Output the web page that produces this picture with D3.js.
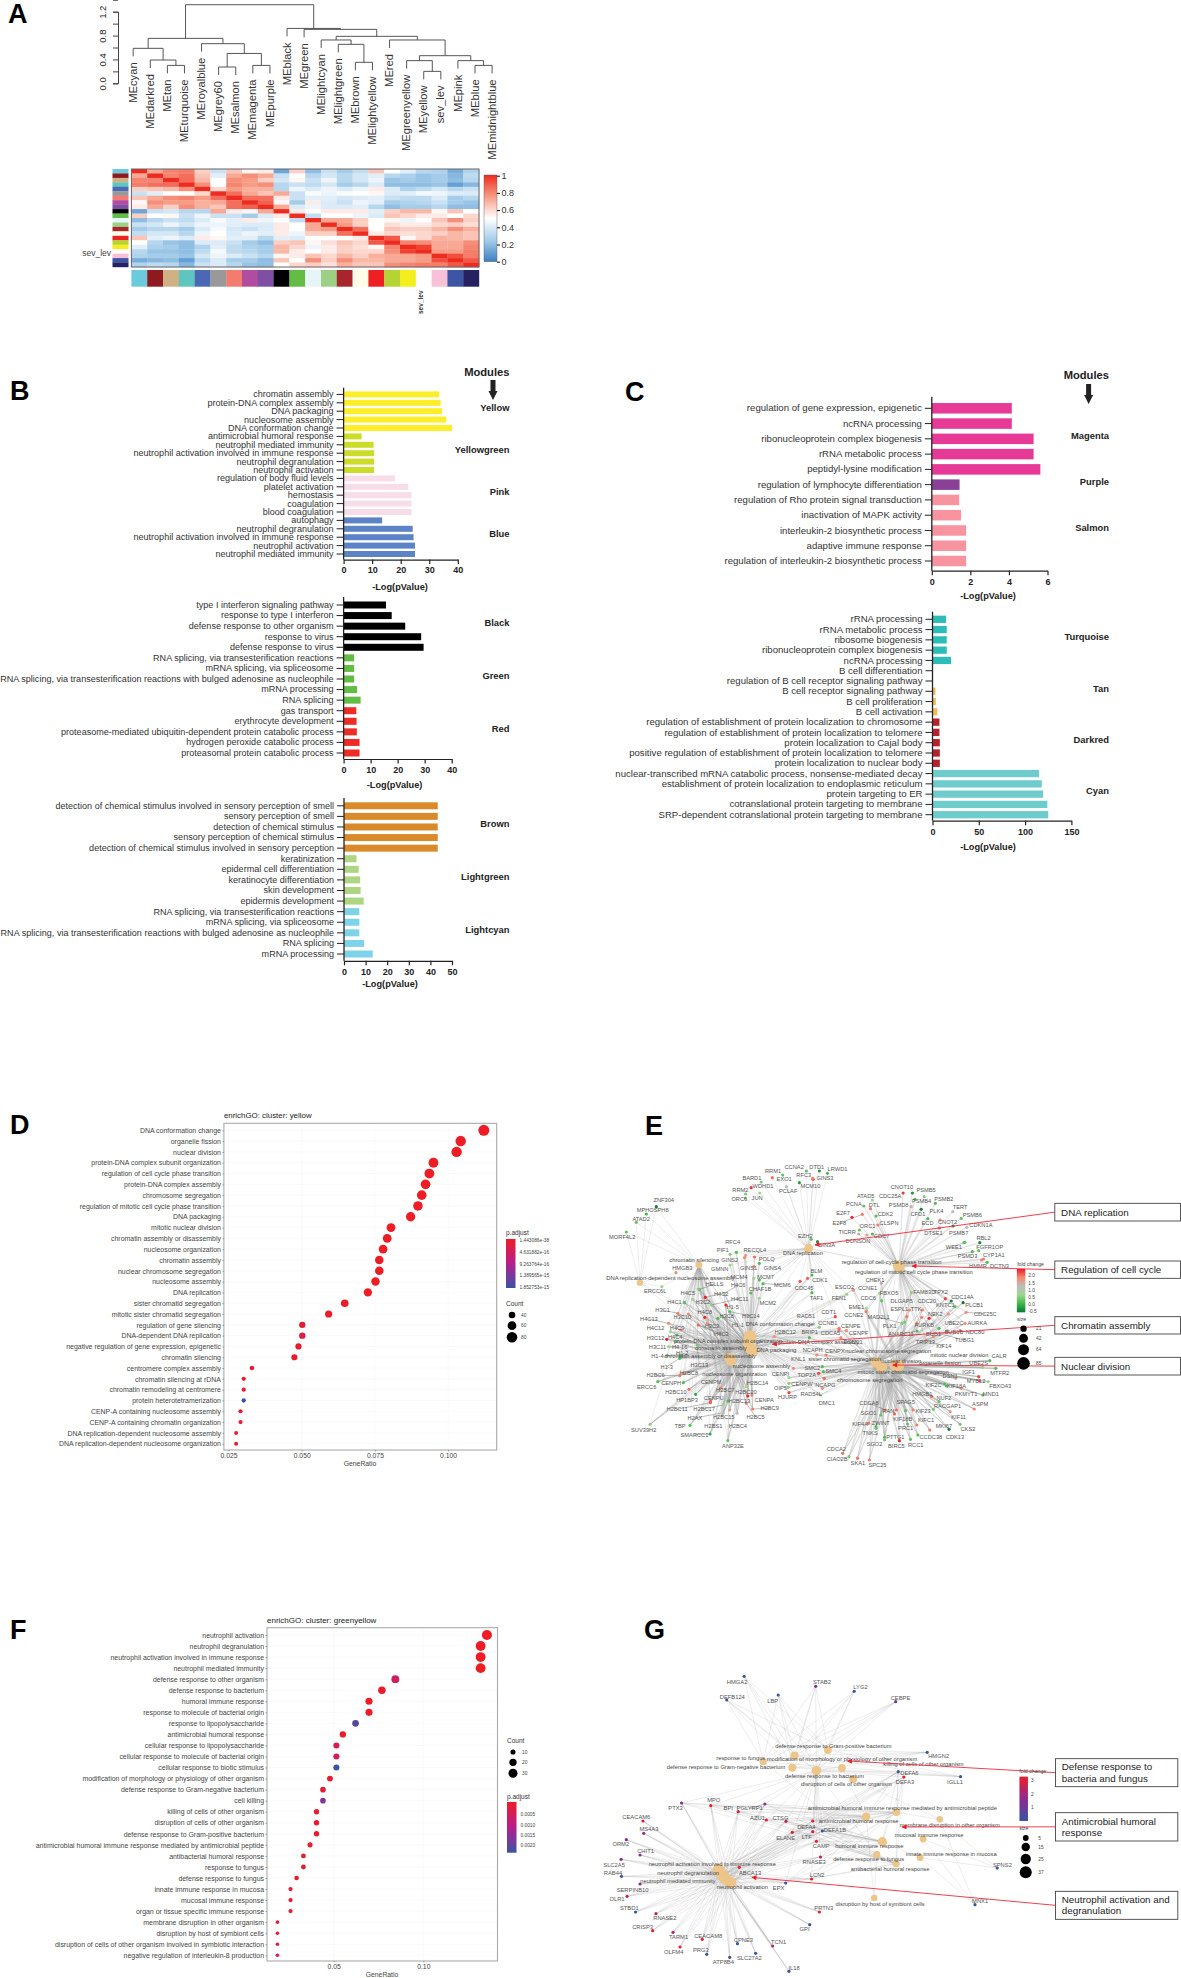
<!DOCTYPE html>
<html>
<head>
<meta charset="utf-8">
<script src="https://cdn.jsdelivr.net/npm/d3@7"></script>
<style>
  body { margin: 0; background: #fff; }
  svg { display: block; font-family: "Liberation Sans", Arial, sans-serif; }
</style>
</head>
<body>
<div id="chart"></div>
<script>
// ---------- panel A data ----------
const meLabels = ["MEcyan","MEdarkred","MEtan","MEturquoise","MEroyalblue","MEgrey60","MEsalmon","MEmagenta","MEpurple","MEblack","MEgreen","MElightcyan","MElightgreen","MEbrown","MElightyellow","MEred","MEgreenyellow","MEyellow","sev_lev","MEpink","MEblue","MEmidnightblue"];
const meColors = ["#6bcbdc","#8e1a1f","#cfb184","#5fc5bf","#4a68b3","#999999","#f37b70","#b14da0","#7f4fa3","#000000","#63bd45","#e5f5f9","#9dd085","#a8262b","#fffde8","#ee2024","#b5d334","#f4ee1d","#ffffff","#f8c1d8","#3c55a5","#262262"];
// merge heights, leaves are indexes into meLabels
const dendroTree = { h: 1.317, c: [
  { h: .753, c: [
    { h: .586, c: [0, { h: .39, c: [1, { h: .30, c: [2, 3] }] }] },
    { h: .664, c: [4, { h: .50, c: [{ h: .273, c: [5, 6] }, { h: .30, c: [7, 8] }] }] }
  ] },
  { h: .92, c: [9, { h: .904, c: [10, { h: .787, c: [
    { h: .726, c: [11, { h: .653, c: [12, { h: .352, c: [13, 14] }] }] },
    { h: .726, c: [15, { h: .463, c: [
      { h: .38, c: [16, { h: .20, c: [17, 18] }] },
      { h: .38, c: [19, { h: .30, c: [20, 21] }] }
    ] }] }
  ] }] }] }
] };
// upper triangle of the module correlation heatmap
const hmUpper = [
  [1,.72,.8,.82,.62,.35,.65,.52,.55,.12,.62,.2,.35,.25,.33,.65,.5,.42,.3,.28,.15,.28],
  [1,.8,.85,.65,.42,.72,.78,.72,.35,.5,.3,.38,.3,.38,.42,.3,.27,.22,.25,.18,.32],
  [1,.86,.68,.5,.78,.75,.62,.38,.52,.35,.45,.3,.38,.45,.22,.25,.22,.25,.2,.3],
  [1,.78,.5,.8,.75,.78,.3,.35,.32,.38,.25,.3,.4,.2,.2,.2,.22,.1,.18],
  [1,.6,.75,.7,.7,.3,.45,.4,.45,.4,.45,.55,.4,.28,.32,.38,.3,.35],
  [1,.85,.72,.65,.72,.35,.48,.45,.48,.5,.52,.4,.42,.47,.45,.4,.4],
  [1,.85,.85,.55,.35,.42,.42,.38,.4,.42,.35,.32,.32,.4,.25,.3],
  [1,.88,.52,.25,.55,.4,.35,.45,.42,.25,.28,.3,.35,.25,.22],
  [1,.72,.4,.45,.4,.4,.42,.3,.2,.25,.25,.3,.2,.2],
  [1,.55,.5,.55,.55,.55,.42,.62,.68,.68,.52,.65,.5],
  [1,.33,.5,.5,.45,.4,.65,.6,.55,.55,.5,.6],
  [1,.72,.72,.62,.5,.52,.45,.5,.65,.78,.62],
  [1,.75,.62,.5,.58,.55,.55,.6,.62,.58],
  [1,.85,.5,.65,.62,.62,.68,.78,.7],
  [1,.55,.6,.58,.6,.62,.68,.65],
  [1,.9,.52,.6,.7,.68,.65],
  [1,.8,.78,.72,.72,.78],
  [1,.95,.72,.72,.8],
  [1,.75,.75,.82],
  [1,.92,.82],
  [1,.9],
  [1]
];

// ---------- panel B / C data ----------
const b1Terms = ["chromatin assembly","protein-DNA complex assembly","DNA packaging","nucleosome assembly","DNA conformation change","antimicrobial humoral response","neutrophil mediated immunity","neutrophil activation involved in immune response","neutrophil degranulation","neutrophil activation","regulation of body fluid levels","platelet activation","hemostasis","coagulation","blood coagulation","autophagy","neutrophil degranulation","neutrophil activation involved in immune response","neutrophil activation","neutrophil mediated immunity"];
const b1Values = [33.5,34,34.5,36,38,6.3,10.5,10.7,10.7,10.7,18,22.7,23.8,23.8,23.8,13.5,24.2,24.5,25,25];
const b1Modules = ["Yellow","Yellowgreen","Pink","Blue"];
const b1Sizes = [5,5,5,5];
const b1Colors = ["#fdee2a","#cddc29","#f7dde9","#5b83c6"];

const b2Terms = ["type I interferon signaling pathway","response to type I interferon","defense response to other organism","response to virus","defense response to virus","RNA splicing, via transesterification reactions","mRNA splicing, via spliceosome","RNA splicing, via transesterification reactions with bulged adenosine as nucleophile","mRNA processing","RNA splicing","gas transport","erythrocyte development","proteasome-mediated ubiquitin-dependent protein catabolic process","hydrogen peroxide catabolic process","proteasomal protein catabolic process"];
const b2Values = [15.7,17.8,22.8,28.7,29.6,3.9,3.9,3.9,5,6.3,4.7,4.8,4.9,5.9,5.9];
const b2Modules = ["Black","Green","Red"];
const b2Sizes = [5,5,5];
const b2Colors = ["#000000","#63bd45","#ee2b24"];

const b3Terms = ["detection of chemical stimulus involved in sensory perception of smell","sensory perception of smell","detection of chemical stimulus","sensory perception of chemical stimulus","detection of chemical stimulus involved in sensory perception","keratinization","epidermal cell differentiation","keratinocyte differentiation","skin development","epidermis development","RNA splicing, via transesterification reactions","mRNA splicing, via spliceosome","RNA splicing, via transesterification reactions with bulged adenosine as nucleophile","RNA splicing","mRNA processing"];
const b3Values = [43.4,43.4,43.4,43.4,43.4,5.8,6.8,7.5,7.7,9.1,7.1,7.1,7.1,9.3,13.3];
const b3Modules = ["Brown","Lightgreen","Lightcyan"];
const b3Sizes = [5,5,5];
const b3Colors = ["#d98a2b","#aed581","#7fd3e8"];

const c1Terms = ["regulation of gene expression, epigenetic","ncRNA processing","ribonucleoprotein complex biogenesis","rRNA metabolic process","peptidyl-lysine modification","regulation of lymphocyte differentiation","regulation of Rho protein signal transduction","inactivation of MAPK activity","interleukin-2 biosynthetic process","adaptive immune response","regulation of interleukin-2 biosynthetic process"];
const c1Values = [4.15,4.15,5.28,5.28,5.63,1.44,1.42,1.52,1.78,1.78,1.78];
const c1Modules = ["Magenta","Purple","Salmon"];
const c1Sizes = [5,1,5];
const c1Colors = ["#e63a96","#8a4097","#f8949f"];

const c2Terms = ["rRNA processing","rRNA metabolic process","ribosome biogenesis","ribonucleoprotein complex biogenesis","ncRNA processing","B cell differentiation","regulation of B cell receptor signaling pathway","B cell receptor signaling pathway","B cell proliferation","B cell activation","regulation of establishment of protein localization to chromosome","regulation of establishment of protein localization to telomere","protein localization to Cajal body","positive regulation of establishment of protein localization to telomere","protein localization to nuclear body","nuclear-transcribed mRNA catabolic process, nonsense-mediated decay","establishment of protein localization to endoplasmic reticulum","protein targeting to ER","cotranslational protein targeting to membrane","SRP-dependent cotranslational protein targeting to membrane"];
const c2Values = [14.7,15.4,15.4,15.4,20,.5,.5,3.2,3.6,5.2,7.5,7.5,7.9,7.9,7.9,115,118,119.5,124,125];
const c2Modules = ["Turquoise","Tan","Darkred","Cyan"];
const c2Sizes = [5,5,5,5];
const c2Colors = ["#2dbdb6","#f5b95c","#b8202e","#6fcccd"];

// ---------- panel D / F data ----------
const dTerms = ["DNA conformation change","organelle fission","nuclear division","protein-DNA complex subunit organization","regulation of cell cycle phase transition","protein-DNA complex assembly","chromosome segregation","regulation of mitotic cell cycle phase transition","DNA packaging","mitotic nuclear division","chromatin assembly or disassembly","nucleosome organization","chromatin assembly","nuclear chromosome segregation","nucleosome assembly","DNA replication","sister chromatid segregation","mitotic sister chromatid segregation","regulation of gene silencing","DNA-dependent DNA replication","negative regulation of gene expression, epigenetic","chromatin silencing","centromere complex assembly","chromatin silencing at rDNA","chromatin remodeling at centromere","protein heterotetramerization","CENP-A containing nucleosome assembly","CENP-A containing chromatin organization","DNA replication-dependent nucleosome assembly","DNA replication-dependent nucleosome organization"];
const dRatio = [.1122,.1043,.1029,.095,.0936,.0923,.091,.0897,.0872,.0805,.0792,.0778,.0765,.0765,.0752,.0726,.0647,.0592,.0502,.0502,.0489,.0475,.033,.0302,.0302,.0302,.0291,.0291,.0276,.0276];
const dCount = [85,79,78,72,71,70,69,68,66,61,60,59,58,58,57,55,49,45,38,38,37,36,25,23,23,23,22,22,21,21];
const dAdjust = [0,0,0,0,0,0,0,0,0,0,0,0,0,0,0,0,0,0,.06,.14,.04,.04,.03,.03,.03,1,.03,.03,.02,.02];

const fTerms = ["neutrophil activation","neutrophil degranulation","neutrophil activation involved in immune response","neutrophil mediated immunity","defense response to other organism","defense response to bacterium","humoral immune response","response to molecule of bacterial origin","response to lipopolysaccharide","antimicrobial humoral response","cellular response to lipopolysaccharide","cellular response to molecule of bacterial origin","cellular response to biotic stimulus","modification of morphology or physiology of other organism","defense response to Gram-negative bacterium","cell killing","killing of cells of other organism","disruption of cells of other organism","defense response to Gram-positive bacterium","antimicrobial humoral immune response mediated by antimicrobial peptide","antibacterial humoral response","response to fungus","defense response to fungus","innate immune response in mucosa","mucosal immune response","organ or tissue specific immune response","membrane disruption in other organism","disruption by host of symbiont cells","disruption of cells of other organism involved in symbiotic interaction","negative regulation of interleukin-8 production"];
const fRatio = [.1355,.132,.132,.132,.0844,.0769,.0697,.0697,.0622,.0551,.0515,.0515,.0515,.0479,.044,.044,.0404,.0404,.0404,.0368,.0331,.0331,.0293,.0259,.0259,.0259,.0186,.0186,.0186,.0186];
const fCount = [37,36,36,36,23,21,19,19,17,15,14,14,14,13,12,12,11,11,11,10,9,9,8,7,7,7,5,5,5,5];
const fAdjust = [0,0,0,0,.28,.02,.02,.03,.88,.03,.2,.22,1,.04,.06,.72,.04,.04,.04,.03,.05,.05,.04,.08,.08,.08,.1,.08,.15,.22];

// ---------- panel E data: hubs and genes in the layout space of the network ----------
// hub rows: label, x, y, size, label x, label y
const eHubs = [
  ["DNA replication",563,415,42,548,430],
  ["chromatin silencing",267,465,25,254,450],
  ["DNA replication-dependent nucleosome assembly",108,518,21,190,504],
  ["regulation of cell-cycle phase transition",806,468,70,787,457],
  ["regulation of mitotic cell cycle phase transition",808,472,60,847,485],
  ["DNA conformation change",405,680,85,485,643],
  ["protein-DNA complex subunit organization",400,700,72,345,692],
  ["protein-DNA complex assembly",412,722,70,590,697],
  ["DNA packaging",408,718,66,476,721],
  ["chromatin assembly",403,712,58,326,714],
  ["chromatin assembly or disassembly",350,745,60,297,738],
  ["nucleosome assembly",352,748,57,436,767],
  ["nucleosome organization",354,752,59,363,792],
  ["nuclear chromosome segregation",745,757,58,778,724],
  ["sister chromatid segregation",742,757,49,660,748],
  ["nuclear division",800,767,78,813,753],
  ["mitotic nuclear division",795,765,61,970,735],
  ["organelle fission",805,767,79,918,760],
  ["mitotic sister chromatid segregation",760,770,45,818,785],
  ["chromosome segregation",760,772,69,728,809]
];
// gene rows: name, x, y, label x, label y, fold change
const eSilencingGenes = [
  ["ZNF304",152,290,172,271,-.5],["MPHOSPH8",125,312,142,300,0],["ATAD2",98,337,111,326,.2],["MORF4L2",71,366,60,381,.2],
  ["HMGB3",205,488,222,475,1.4],["ERCC6L",167,530,149,544,.5]
];
const eReplicationTop = [
  ["CCNA2",557,183,524,170,.2],["DTD1",592,183,585,170,-.2],["LRWD1",614,190,641,178,.1],["RFC3",575,208,550,195,2],
  ["GINS3",574,205,607,204,1.6],["RRM1",493,195,467,184,.2],["EXO1",465,203,497,208,1.7],["BARD1",435,216,410,203,.3],
  ["MCM10",538,218,568,229,-.2],["WDHD1",408,233,440,229,2.1],["PCLAF",503,230,508,243,1],["RRM2",393,252,379,240,.3],
  ["ORC6",392,264,376,266,.4],["JUN",431,249,424,264,.5],["EZH2",570,388,554,377,.2],["SIN3A",587,395,612,405,-.3]
];
const eReplicationMid = [
  ["RFC4",368,427,358,396,.1],["PIF1",351,433,331,421,.4],["RECQL4",393,436,418,421,1.3],["GINS2",390,443,350,449,1.5],
  ["POLQ",417,441,450,446,1.7],["GMNN",351,465,323,476,.5],["GINS1",415,470,401,473,1.4],["GINS4",430,460,465,475,.1],
  ["MCM4",415,505,375,501,.6],["MCM7",430,510,447,502,.1],["MCM6",440,521,492,524,.1],["CHAF1B",407,549,432,538,.1],
  ["MCM2",430,565,453,578,.6],["BLM",572,495,584,482,.1],["CDK1",560,505,593,510,1.8],["CDC45",540,514,551,535,1.9],
  ["TAF1",572,548,584,563,.1],["ESCO2",683,540,660,530,1.6],["FEN1",666,553,645,563,.5],["RAD51",577,642,556,618,1],
  ["CDT1",635,620,617,607,2],["CCNB1",592,652,615,640,.4]
];
const eCycleTop = [
  ["CNOT10",843,249,815,232,-.3],["CDC25A",818,249,783,258,2.1],["PSMB5",875,260,880,241,.4],["ATAD5",735,270,717,258,.5],
  ["PSMB4",850,268,868,272,.1],["PSMB2",905,280,928,266,.1],["PCNA",712,288,685,283,.2],["DTL",730,296,740,286,1.6],
  ["PSMD8",840,290,806,285,1.2],["TERT",952,305,972,291,1],["PLK4",867,298,908,302,-.4],["E2F7",680,322,656,310,2.2],
  ["CDK2",745,318,770,313,.1],["CFD1",885,326,858,311,.1],["PSMB6",975,325,1005,316,.2],["E2F8",708,313,646,340,1.6],
  ["ORC1",700,360,722,349,.2],["CLSPN",750,345,780,340,1.6],["ECD",918,330,884,340,1.5],["CNOT2",953,348,938,335,-.3],
  ["CDKN1A",990,352,1028,345,1],["TICRR",698,372,667,366,1.2],["CDC7",735,372,760,377,.1],["DTSE1",916,354,900,369,1.8],
  ["PSMB7",985,397,968,370,.2],["DONSON",720,375,696,392,1.2],["RBL2",1025,398,1035,385,-.4],["WEE1",982,398,955,412,.2],
  ["FGFR1OP",1022,422,1052,410,.2],["PSMD3",1005,425,992,438,.1],["CYP1A1",1035,447,1063,436,1.6],["HMMR",1030,450,1020,469,1.6],
  ["DCTN3",1045,457,1078,468,.1]
];
const eCycleMid = [
  ["CHEK1",759,520,742,510,1.2],["CCNE1",684,540,722,534,1.4],["FBXO5",755,550,780,548,.5],["CDC6",760,572,724,564,.2],
  ["EME1",719,595,692,590,.5],["CCNE2",718,605,685,615,1.6],["FAM83D",840,548,875,546,.4],["TPX2",932,566,920,545,2],
  ["CDC14A",948,573,978,562,-.4],["PLCB1",980,578,1010,586,-.5],["KNTC1",958,590,932,586,.2],["DLGAP5",835,600,814,573,1.5],
  ["CDC20",870,600,882,573,1.6],["ESPL1",828,620,808,597,1.6],["TTK",868,622,853,598,1.6],["CDC25C",988,607,1040,612,1.5],
  ["NEK2",888,625,905,612,2.2],["MAD2L1",815,640,752,622,.4],["UBE2C",940,612,955,638,1.5],["AURKA",985,640,1018,638,1.5],
  ["PLK1",822,636,782,647,.3],["AURKB",855,640,875,645,1.6],["ANAPC11",856,663,812,672,.1],["BUB1",915,655,900,672,.1],
  ["BUB1B",938,662,955,665,1.2],["NDC80",972,662,1012,665,1.6],["TRIP13",900,680,878,697,1.5],["TUBG1",920,672,984,690,1.2],
  ["KIF14",880,690,928,708,1.4]
];
const eChromatinGenes = [
  ["HELLS",268,538,309,523,.1],["H4C6",335,550,373,526,.5],["H4C5",265,537,237,549,.4],["H4C2",284,562,327,551,2.3],
  ["H4C1",228,578,201,575,.1],["H3C2",250,568,278,575,.6],["H4C11",300,585,377,566,.4],["H1-5",340,585,358,591,2.2],
  ["H3C1",210,610,169,600,1.6],["H4C8",283,622,283,605,2.2],["H3C8",318,625,342,618,.1],["H3C14",350,605,407,618,.1],
  ["H4C13",185,640,132,627,1.5],["H3C10",238,612,222,620,1.5],["H4C12",190,665,150,654,.5],["H4C9",218,660,208,653,1.6],
  ["H1-1",330,620,372,644,.3],["H3C3",290,640,302,647,1.5],["H4C4",207,675,203,680,.1],["H3C12",180,688,150,683,2.3],
  ["H4C3",265,645,327,671,1.8],["H3C11",185,710,155,711,.5],["H4-16",205,695,215,710,.3],["H1-4",180,737,155,738,.3],
  ["H1-2",216,737,222,728,.1],["H1-3",215,745,180,770,.1],["H3C13",262,705,268,764,.3],["H2BC6",215,797,150,796,1.6],
  ["H2BC8",225,790,240,788,1.5],["ERCC6",156,815,126,832,.1],["CENPH",225,818,192,820,.1],["CENPM",300,816,300,816,.5],
  ["H2BC10",240,838,205,845,1.7],["H2BC7",325,835,338,841,1.6],["H2BC20",399,858,394,845,2.2],["H2BC14",395,830,425,818,.5],
  ["CENPU",298,875,307,865,1.9],["HP1BP3",258,853,235,870,-.1],["CENPA",410,855,443,869,1.6],["H2BC11",298,878,208,898,1.8],
  ["H2BC17",332,885,281,896,.6],["H2BC13",345,873,376,873,.1],["H2BC9",412,897,458,895,1.6],["H2AX",333,908,256,924,1],
  ["H2BC15",350,900,334,921,1.3],["H2BC5",395,880,420,921,1.6],["TBP",243,946,216,948,.1],["H2BS1",330,915,306,947,1],
  ["H2BC4",370,910,372,948,1],["SUV39H2",135,943,118,959,.4],["SMARCC1",297,972,255,974,-.1],["ANP32E",345,992,359,1008,.2]
];
const eCentromereGenes = [
  ["H2BC12",470,680,500,667,1.4],["BRIP1",565,683,566,666,.1],["CENPE",645,655,677,647,1.6],["CDCA5",645,660,622,670,1.7],
  ["CENPF",665,662,698,670,1.5],["DSCC1",650,683,683,697,1.5],["NCAPH",585,735,574,720,1.5],["CENPX",610,735,634,722,1.6],
  ["KNL1",522,775,535,747,1.5],["SMC2",600,770,573,773,.1],["SMC4",603,785,630,784,.1],["TOP2A",590,790,558,795,2],
  ["CENPI",510,803,487,793,.5],["NCAPG",605,805,608,825,1.8],["CENPW",510,820,545,823,.4],["RAD54L",600,835,570,852,1.4],
  ["OIP5",508,832,487,833,.4],["HJURP",510,848,506,862,2],["DMC1",595,855,612,878,.5]
];
const eDivisionGenes = [
  ["CALR",1052,752,1077,738,.1],["UBE2S",1033,772,1022,760,.5],["MTFR2",1068,775,1079,789,.1],["IGF1",1022,800,995,785,2],
  ["MYBL2",1025,812,1015,813,1.8],["FBXO43",1048,815,1080,827,.5],["DSN1",960,805,945,798,1.2],["KIF2C",930,822,900,824,.1],
  ["KIF18A",935,828,962,828,.1],["PKMYT1",975,835,988,851,1.5],["MND1",1033,855,1055,852,.1],["HMGB1",895,860,870,852,1.7],
  ["NUF2",915,875,928,864,.2],["RACGAP1",900,898,938,888,.3],["ASPM",1010,897,1026,883,1.6],["KIF23",845,900,872,904,1.6],
  ["SPAG5",825,902,825,876,.2],["CDCA8",770,900,726,879,1.6],["RAN",800,900,778,903,1.7],["SGO1",758,915,725,908,.2],
  ["KIF18B",795,912,817,928,1.8],["KIF11",945,905,968,920,1.4],["KIFC1",855,945,880,930,1.6],["KIF4A",725,940,702,941,1.7],
  ["ZWINT",745,950,758,940,.1],["PRC1",830,942,825,955,.2],["MKI67",890,960,928,948,1.6],["CDK13",942,958,958,981,-.4],
  ["CKS2",972,943,993,958,.3],["TNKS",745,955,729,968,.2],["PTTG1",768,982,797,980,.1],["CCDC38",858,975,893,980,.1],
  ["SGO2",768,990,741,1003,.3],["BIRC5",808,992,800,1007,2.2],["RCC1",838,988,852,1004,.2],["CDCA2",655,1030,638,1018,1.7],
  ["CIAO2B",672,1040,640,1048,.3],["SKA1",695,1045,696,1060,1.7],["SPC25",727,1050,749,1064,1.6]
];
// which gene list is wired to which hubs (indexes into eHubs)
const eLinks = [
  [eSilencingGenes,[1,2]],[eReplicationTop,[0]],[eReplicationMid,[0,5,6,7]],[eCycleTop,[3,4]],
  [eCycleMid,[3,4,13,14,15,16,17]],[eChromatinGenes,[5,6,7,8,9,10,11,12,1]],
  [eCentromereGenes,[5,6,9,13,14,19,15]],[eDivisionGenes,[13,14,15,16,17,18,19]]
];
const eHubBridges = [[0,3],[0,5],[0,4],[1,10],[2,10],[1,6],[2,6],[3,13],[4,15],[5,14],[0,13]];

// ---------- panel G data ----------
const gHubs = [
  ["defense response to Gram-positive bacterium",615,450,12,630,438],
  ["modification of morphology or physiology of other organism",525,467,14,653,476],
  ["response to fungus",440,485,10,380,474],
  ["defense response to Gram-negative bacterium",519,503,13,340,501],
  ["defense response to bacterium",584,512,21,606,527],
  ["killing of cells of other organism",653,504,12,873,493],
  ["disruption of cells of other organism",683,538,12,665,552],
  ["antimicrobial humoral immune response mediated by antimicrobial peptide",800,637,11,816,624],
  ["antimicrobial humoral response",718,650,15,698,664],
  ["membrane disruption in other organism",917,658,7,944,675],
  ["mucosal immune response",872,717,8,888,706],
  ["humoral immune response",762,725,19,727,739],
  ["defense response to fungus",747,764,10,725,778],
  ["innate immune response in mucosa",864,773,8,948,763],
  ["antibacterial humoral response",799,791,10,783,807],
  ["disruption by host of symbiont cells",740,894,7,756,911],
  ["neutrophil activation involved in immune response",320,810,36,303,792],
  ["neutrophil degranulation",330,825,36,238,818],
  ["neutrophil mediated immunity",338,835,36,210,844],
  ["neutrophil activation",352,848,37,384,862]
];
const gOuterGenes = [
  ["HMGA2",389,229,370,245,.9],["STAB2",582,259,599,246,1.8],["LYG2",686,274,703,260,.9],["DEFB124",342,300,357,291,.9],
  ["LBP",481,285,466,302,.9],["CEBPE",798,305,811,293,1.4],["HMGN2",883,457,914,467,.9],["IGLL1",973,530,958,547,.9]
];
const gGranuleGenes = [
  ["DEFA6",805,515,835,518,.9],["DEFA3",820,531,823,546,3],["PTX3",220,609,204,625,1.8],["MPO",299,617,307,600,2.9],
  ["BPI",373,635,346,625,2.9],["PGLYRP1",445,612,404,625,1.8],["AZU1",449,660,425,653,2.9],["CTSG",502,664,487,654,2.3],
  ["DEFA4",574,663,557,680,2.9],["DEFA1B",600,693,634,689,.9],["LTF",574,695,558,710,2.9],["ELANE",519,697,501,713,2.9],
  ["CAMP",584,724,597,738,2.9],["RNASE3",595,771,578,786,2.4],["LCN2",571,837,586,825,2.9],["EPX",501,849,482,864,.9]
];
const gNeutrophilGenes = [
  ["ABCA13",376,802,405,818,2.9],["PRTN3",592,936,604,925,2.9],["GPI",566,974,552,988,.9],["CEACAM6",116,663,98,651,2.9],
  ["MS4A3",118,700,132,688,2.1],["ORM2",71,719,56,733,1.7],["CHIT1",108,765,123,754,1.8],["SLC2A5",57,778,38,794,1.8],
  ["RAB44",58,829,35,820,.9],["SERPINB10",108,852,88,869,1.9],["OLR1",73,889,46,898,2.4],["STBD1",96,936,79,923,.9],
  ["RNASE2",151,941,175,955,2.3],["CRISP3",142,992,115,980,2.9],["TARM1",197,997,212,1012,2.2],["CEACAM8",276,1018,292,1007,2.9],
  ["OLFM4",216,1041,199,1057,2.9],["PRG3",288,1063,272,1051,.9],["CPNE3",371,1031,387,1019,.9],["ATP8B4",350,1072,333,1087,1.4],
  ["SLC27A2",420,1060,403,1074,.9],["TCN1",466,1038,482,1027,2.3],["IL18",510,1114,524,1103,.9]
];
const gStrayGenes = [["SPNS2",1072,804,1086,794,.9],["MNX1",1012,914,1026,902,.9]];
const gLinks = [
  [gOuterGenes,[0,1,3,4,2]],[gGranuleGenes,[16,17,18,19,4,7,8,11,14]],[gNeutrophilGenes,[16,17,18,19]],[gStrayGenes,[10,13,9]]
];
const gHubBridges = [[0,4],[1,4],[3,5],[4,6],[5,8],[6,9],[4,12],[2,12],[8,15],[12,15],[11,13],[7,9]];

// annotation boxes, [text lines], box top/bottom and arrow tip in the network layout space
const eNotes = [
  [["DNA replication"],280,333,580,405],[["Regulation of cell cycle"],453,505,842,468],
  [["Chromatin assembly"],620,672,465,703],[["Nuclear division"],742,795,790,765]
];
const gNotes = [
  [["Defense response to","bacteria and fungus"],476,560,668,483],[["Antimicrobial humoral","response"],638,723,815,681],
  [["Neutrophil activation and","degranulation"],874,958,410,832]
];

const width = 1181, height = 1978;
const svg = d3.select("#chart").append("svg").attr("width", width).attr("height", height).attr("viewBox", `0 0 ${width} ${height}`);

const panelLetters = [["A",8,23],["B",10,400],["C",625,401],["D",10,1134],["E",645,1135],["F",10,1639],["G",644,1639]];
svg.selectAll("text.panel").data(panelLetters).enter().append("text").attr("class", "panel")
  .text(d => d[0]).attr("x", d => d[1]).attr("y", d => d[2])
  .style("font-size", "27px").style("font-weight", 700).style("fill", "#000");

// ---------- A: dendrogram ----------
const dendY = d3.scaleLinear().domain([0, 1.2]).range([83.3, 11.7]);
const leafX = d3.scalePoint().domain(d3.range(22)).range([133.2, 492.1]);
const hang = .134;

const root = d3.hierarchy(dendroTree, d => (d.c ? d.c.map(k => (typeof k === "number" ? { leaf: k } : k)) : null));
root.eachAfter(n => {
  if (n.children) {
    n.px = d3.mean(n.children, k => k.px);
    n.py = dendY(n.data.h);
  } else {
    n.px = leafX(n.data.leaf);
    n.py = dendY(n.parent.data.h - hang);
  }
});
const dendG = svg.append("g").attr("fill", "none").attr("stroke", "#444").attr("stroke-width", .9);
root.descendants().filter(n => n.children).forEach(n => {
  const pts = n.children;
  dendG.append("path").attr("d", `M${pts[0].px},${pts[0].py}V${n.py}H${pts[1].px}V${pts[1].py}`);
});
svg.append("g").selectAll("text").data(root.leaves()).enter().append("text")
  .text(d => meLabels[d.data.leaf])
  .attr("transform", d => `translate(${d.px + 3.6},${d.py + 6}) rotate(-90)`)
  .attr("text-anchor", "end")
  .style("font-size", "11.2px").style("fill", "#333");

const dendAxis = svg.append("g").attr("transform", "translate(118,0)")
  .call(d3.axisLeft(dendY).tickValues([0,.2,.4,.6,.8,1,1.2,1.4]).tickSize(5).tickFormat(d => ([0,.4,.8,1.2].includes(d) ? d.toFixed(1) : "")));
dendAxis.selectAll("text").attr("transform", "rotate(-90)").attr("x", 0).attr("y", -12).attr("dy", 0)
  .attr("text-anchor", "middle").style("font-size", "9.5px").style("font-family", "inherit").style("fill", "#222");
dendAxis.selectAll("line,path").attr("stroke", "#444");

// ---------- A: heatmap ----------
const hmColor = d3.scaleLinear().domain([0,.25,.5,.75,1]).range(["#3a80c3","#a5cdea","#ffffff","#f79c85","#ee2b1f"]);
const hmX = d3.scaleBand().domain(d3.range(22)).range([131.4, 479]);
const hmY = d3.scaleBand().domain(d3.range(22)).range([169, 267]);
const hmCells = [];
hmUpper.forEach((row, i) => row.forEach((v, k) => {
  hmCells.push({ r: i, c: i + k, v });
  if (k > 0) hmCells.push({ r: i + k, c: i, v });
}));
svg.append("g").selectAll("rect").data(hmCells).enter().append("rect")
  .attr("x", d => hmX(d.c)).attr("y", d => hmY(d.r))
  .attr("width", hmX.bandwidth() + .3).attr("height", hmY.bandwidth() + .3)
  .attr("fill", d => hmColor(d.v));
svg.append("rect").attr("x", 131.4).attr("y", 169).attr("width", 347.6).attr("height", 98)
  .attr("fill", "none").attr("stroke", "#666").attr("stroke-width", 1);
svg.append("g").selectAll("rect").data(meColors).enter().append("rect")
  .attr("x", (d, i) => hmX(i)).attr("y", 270).attr("width", hmX.bandwidth() + .2).attr("height", 16.7).attr("fill", d => d);
svg.append("g").selectAll("rect").data(meColors).enter().append("rect")
  .attr("x", 112.5).attr("y", (d, i) => hmY(i)).attr("width", 16).attr("height", hmY.bandwidth() + .2).attr("fill", d => d);
svg.append("text").text("sev_lev").attr("x", 111).attr("y", 256).attr("text-anchor", "end").style("font-size", "8.5px").style("fill", "#444");
svg.append("text").text("sev_lev").attr("transform", "translate(423,314) rotate(-90)").style("font-size", "6.5px").style("font-weight", 700).style("fill", "#333");

function gradientDef(id, stops) {
  const g = svg.append("defs").append("linearGradient").attr("id", id).attr("x1", 0).attr("x2", 0).attr("y1", 0).attr("y2", 1);
  stops.forEach((c, i) => g.append("stop").attr("offset", i / (stops.length - 1)).attr("stop-color", c));
}
gradientDef("hmGrad", [1,.75,.5,.25,0].map(hmColor));
svg.append("rect").attr("x", 484).attr("y", 175).attr("width", 13).attr("height", 86.7).attr("fill", "url(#hmGrad)").attr("stroke", "#555").attr("stroke-width", .4);
const hmBarY = d3.scaleLinear().domain([0, 1]).range([261.7, 175.7]);
const hmBarAxis = svg.append("g").attr("transform", "translate(497,0)").call(d3.axisRight(hmBarY).tickValues([0,.2,.4,.6,.8,1]).tickSize(3).tickPadding(1.5).tickFormat(d => d));
hmBarAxis.select(".domain").remove();
hmBarAxis.selectAll("text").style("font-size", "9px").style("font-family", "inherit").style("fill", "#333");

// ---------- B / C: bar panels ----------
function drawBars(opt) {
  const n = opt.terms.length;
  const step = (opt.lastY - opt.firstY) / (n - 1);
  const inner = 1 - opt.barH / step;
  const y = d3.scaleBand().domain(d3.range(n)).range([opt.firstY - step / 2, opt.lastY + step / 2]).paddingInner(inner).paddingOuter(inner / 2);
  const x = d3.scaleLinear().domain([0, opt.max]).range([opt.x0, opt.x1]);

  let colorOf = [], offset = 0;
  const g = svg.append("g");
  opt.sizes.forEach((s, k) => {
    d3.range(s).forEach(() => colorOf.push(opt.colors[k]));
    g.append("text").text(opt.modules[k]).attr("x", opt.modX)
      .attr("y", y(offset + Math.floor(s / 2)) + y.bandwidth() / 2 - 3).attr("dy", ".35em")
      .attr("text-anchor", "end").style("font-size", "9.4px").style("font-weight", 700).style("fill", "#222");
    offset += s;
  });
  g.selectAll("rect").data(opt.values).enter().append("rect")
    .attr("x", opt.x0).attr("y", (d, i) => y(i))
    .attr("width", d => x(d) - opt.x0).attr("height", y.bandwidth())
    .attr("fill", (d, i) => colorOf[i]);

  const ya = g.append("g").attr("transform", `translate(${opt.x0},0)`)
    .call(d3.axisLeft(y).tickSize(opt.tick).tickPadding(3).tickFormat(i => opt.terms[i]));
  ya.select(".domain").remove();
  ya.selectAll("line").attr("stroke", "#222").attr("stroke-width", 1);
  ya.selectAll("text").style("font-size", opt.font + "px").style("font-family", "inherit").style("fill", "#333");

  const xa = g.append("g").attr("transform", `translate(0,${opt.base})`)
    .call(d3.axisBottom(x).tickValues(opt.ticks).tickSize(4.5).tickSizeOuter(0).tickPadding(3).tickFormat(d => d));
  xa.selectAll("line,path").attr("stroke", "#222").attr("stroke-width", 1.2);
  xa.selectAll("text").style("font-size", "9px").style("font-weight", 700).style("font-family", "inherit").style("fill", "#222");
  g.append("line").attr("x1", opt.x0).attr("x2", opt.x0).attr("y1", opt.top).attr("y2", opt.base).attr("stroke", "#222").attr("stroke-width", 1.3);
  g.append("text").text("-Log(pValue)").attr("x", opt.titleX).attr("y", opt.titleY).attr("text-anchor", "middle")
    .style("font-size", "9.2px").style("font-weight", 700).style("fill", "#222");
}
const barStyle = { font: 9.05, tick: 7 };
drawBars({ ...barStyle, terms: b1Terms, values: b1Values, modules: b1Modules, sizes: b1Sizes, colors: b1Colors, max: 40, ticks: [0,10,20,30,40],
  x0: 343.6, x1: 457.8, firstY: 394.4, lastY: 554, barH: 6, top: 387.7, base: 559.6, modX: 509.5, titleX: 400, titleY: 590 });
drawBars({ ...barStyle, terms: b2Terms, values: b2Values, modules: b2Modules, sizes: b2Sizes, colors: b2Colors, max: 40, ticks: [0,10,20,30,40],
  x0: 343.6, x1: 451.7, firstY: 605, lastY: 753, barH: 7, top: 597, base: 759, modX: 509.5, titleX: 394.6, titleY: 788 });
drawBars({ ...barStyle, terms: b3Terms, values: b3Values, modules: b3Modules, sizes: b3Sizes, colors: b3Colors, max: 50, ticks: [0,10,20,30,40,50],
  x0: 344, x1: 452, firstY: 805.8, lastY: 954, barH: 7, top: 798, base: 960.8, modX: 509.5, titleX: 390, titleY: 987 });
drawBars({ ...barStyle, font: 9.6, terms: c1Terms, values: c1Values, modules: c1Modules, sizes: c1Sizes, colors: c1Colors, max: 6, ticks: [0,2,4,6],
  x0: 931.8, x1: 1047.5, firstY: 408.3, lastY: 561, barH: 10.5, top: 396.7, base: 570.7, modX: 1109, titleX: 988, titleY: 599 });
drawBars({ ...barStyle, font: 9.6, terms: c2Terms, values: c2Values, modules: c2Modules, sizes: c2Sizes, colors: c2Colors, max: 150, ticks: [0,50,100,150],
  x0: 932.5, x1: 1071.4, firstY: 619.3, lastY: 814.7, barH: 7.3, top: 611.7, base: 820.7, modX: 1109, titleX: 988, titleY: 850 });

[[509.5, 375.5, 493, 380], [1109, 378.5, 1088.6, 384]].forEach(([tx, ty, ax, ay]) => {
  svg.append("text").text("Modules").attr("x", tx).attr("y", ty).attr("text-anchor", "end")
    .style("font-size", "11.2px").style("font-weight", 700).style("fill", "#222");
  svg.append("path").attr("transform", `translate(${ax},${ay})`).attr("d", "M-2.5,0H2.5V11H4.5L0,20L-4.5,11H-2.5Z").attr("fill", "#222");
});

// ---------- D / F: enrichGO dot plots ----------
const adjustColor = d3.scaleLinear().domain([0,.5,1]).range(["#ee1c25","#b51f8f","#3a53a4"]);
function drawDots(opt) {
  const y = d3.scalePoint().domain(d3.range(opt.terms.length)).range([opt.firstY, opt.lastY]);
  const x = d3.scaleLinear().domain(opt.xDomain).range(opt.xRange);
  const r = d3.scaleSqrt().domain(opt.countDomain).range(opt.rRange);
  const g = svg.append("g");
  g.append("rect").attr("x", opt.left).attr("y", opt.top).attr("width", opt.right - opt.left).attr("height", opt.bottom - opt.top)
    .attr("fill", "#fff");
  g.selectAll("line.grid").data(y.domain()).enter().append("line").attr("class", "grid")
    .attr("x1", opt.left).attr("x2", opt.right).attr("y1", d => y(d)).attr("y2", d => y(d)).attr("stroke", "#f5f5f5").attr("stroke-width", .5);
  g.selectAll("line.gridv").data(opt.ticks).enter().append("line").attr("class", "gridv")
    .attr("y1", opt.top).attr("y2", opt.bottom).attr("x1", d => x(d)).attr("x2", d => x(d)).attr("stroke", "#f5f5f5").attr("stroke-width", .5);
  g.selectAll("circle").data(opt.ratio).enter().append("circle")
    .attr("cx", d => x(d)).attr("cy", (d, i) => y(i)).attr("r", (d, i) => r(opt.count[i]))
    .attr("fill", (d, i) => adjustColor(opt.adjust[i]));
  g.append("rect").attr("x", opt.left).attr("y", opt.top).attr("width", opt.right - opt.left).attr("height", opt.bottom - opt.top)
    .attr("fill", "none").attr("stroke", "#aaa").attr("stroke-width", 1.1);

  const ya = g.append("g").attr("transform", `translate(${opt.left},0)`)
    .call(d3.axisLeft(y).tickSize(1.5).tickPadding(1.5).tickFormat(i => opt.terms[i]));
  ya.select(".domain").remove();
  ya.selectAll("line").attr("stroke", "#555").attr("stroke-width", .5);
  ya.selectAll("text").style("font-size", "6.95px").style("font-family", "inherit").style("fill", "#444");

  const xa = g.append("g").attr("transform", `translate(0,${opt.bottom})`)
    .call(d3.axisBottom(x).tickValues(opt.ticks).tickSize(1.5).tickPadding(2).tickFormat(opt.fmt));
  xa.select(".domain").remove();
  xa.selectAll("line").attr("stroke", "#555").attr("stroke-width", .5);
  xa.selectAll("text").style("font-size", "6.8px").style("font-family", "inherit").style("fill", "#444");
  g.append("text").text(opt.title).attr("x", opt.left).attr("y", opt.top - 5).style("font-size", opt.titleFont + "px").style("fill", "#222");
  g.append("text").text("GeneRatio").attr("x", opt.ratioX).attr("y", opt.ratioY).attr("text-anchor", "middle").style("font-size", "6.8px").style("fill", "#444");

  // legends
  const lg = svg.append("g");
  lg.append("text").text("p.adjust").attr("x", opt.legX).attr("y", opt.adjTitleY).style("font-size", "6.5px").style("fill", "#333");
  gradientDef(opt.gradId, [0,.25,.5,.75,1].map(adjustColor));
  lg.append("rect").attr("x", opt.legX).attr("y", opt.barTop).attr("width", 9.5).attr("height", opt.barBottom - opt.barTop).attr("fill", `url(#${opt.gradId})`);
  lg.selectAll("text.adj").data(opt.adjLabels).enter().append("text").attr("class", "adj")
    .text(d => d).attr("x", opt.legX + 13.5).attr("y", (d, i) => opt.adjYs[i]).attr("dy", ".35em").style("font-size", "4.8px").style("fill", "#444");
  lg.append("text").text("Count").attr("x", opt.legX).attr("y", opt.countTitleY).style("font-size", "6.5px").style("fill", "#333");
  lg.selectAll("circle").data(opt.countLabels).enter().append("circle")
    .attr("cx", opt.legX + 6).attr("cy", (d, i) => opt.countYs[i]).attr("r", d => r(d)).attr("fill", "#000");
  lg.selectAll("text.cnt").data(opt.countLabels).enter().append("text").attr("class", "cnt")
    .text(d => d).attr("x", opt.legX + 15).attr("y", (d, i) => opt.countYs[i]).attr("dy", ".35em").style("font-size", "4.8px").style("fill", "#444");
}
drawDots({ terms: dTerms, ratio: dRatio, count: dCount, adjust: dAdjust, title: "enrichGO: cluster: yellow", titleFont: 7.9,
  left: 223.9, right: 496.7, top: 1123.3, bottom: 1450, firstY: 1130.3, lastY: 1443.7,
  xDomain: [.025, .1], xRange: [228.5, 448.1], ticks: [.025,.05,.075,.1], fmt: d3.format(".3f"),
  countDomain: [21, 85], rRange: [2, 5.5], ratioX: 360, ratioY: 1466, gradId: "dGrad", legX: 506,
  adjTitleY: 1235, barTop: 1239, barBottom: 1288, adjYs: [1240.7,1252.7,1264,1275.7,1287.3],
  adjLabels: ["1.443086e-38","4.631882e-16","9.263764e-16","1.389565e-15","1.852753e-15"],
  countTitleY: 1306, countYs: [1315,1325.7,1337.3], countLabels: [40,60,80] });
drawDots({ terms: fTerms, ratio: fRatio, count: fCount, adjust: fAdjust, title: "enrichGO: cluster: greenyellow", titleFont: 8,
  left: 267, right: 497.5, top: 1627.7, bottom: 1961, firstY: 1635, lastY: 1955.3,
  xDomain: [.05, .1], xRange: [333.7, 423.3], ticks: [.05,.1], fmt: d3.format(".2f"),
  countDomain: [5, 37], rRange: [1.8, 5], ratioX: 382, ratioY: 1977, gradId: "fGrad", legX: 507,
  adjTitleY: 1798.5, barTop: 1802, barBottom: 1852.7, adjYs: [1814.3,1825,1835,1845.3],
  adjLabels: ["0.0005","0.0010","0.0015","0.0020"],
  countTitleY: 1742.5, countYs: [1752,1762.3,1773.3], countLabels: [10,20,30] });

// ---------- E / G: gene networks ----------
function drawNetwork(opt) {
  const sx = d3.scaleLinear().domain([0, 1568]).range([600, 1181]);
  const sy = d3.scaleLinear().domain([0, 1110]).range([opt.y0, opt.y0 + 370]);
  const hubR = d3.scaleSqrt().domain(opt.sizeDomain).range(opt.rRange);
  const hubs = opt.hubs;

  const edges = [];
  opt.links.forEach(([genes, hubIds]) => genes.forEach(g => hubIds.forEach(h => edges.push([g[1], g[2], hubs[h][1], hubs[h][2]]))));
  opt.bridges.forEach(([a, b]) => edges.push([hubs[a][1], hubs[a][2], hubs[b][1], hubs[b][2]]));

  const g = svg.append("g");
  g.append("g").selectAll("line").data(edges).enter().append("line")
    .attr("x1", d => sx(d[0])).attr("y1", d => sy(d[1])).attr("x2", d => sx(d[2])).attr("y2", d => sy(d[3]))
    .attr("stroke", "#a3a3a3").attr("stroke-opacity", .36).attr("stroke-width", .55);

  const genes = opt.links.flatMap(l => l[0]);
  g.append("g").selectAll("line").data(genes.filter(d => Math.hypot(d[1] - d[3], d[2] - d[4]) > 42)).enter().append("line")
    .attr("x1", d => sx(d[1])).attr("y1", d => sy(d[2])).attr("x2", d => sx(d[3])).attr("y2", d => sy(d[4]))
    .attr("stroke", "#555").attr("stroke-width", .4);

  g.append("g").selectAll("circle").data(hubs).enter().append("circle")
    .attr("cx", d => sx(d[1])).attr("cy", d => sy(d[2])).attr("r", d => hubR(d[3])).attr("fill", "#edc588");
  g.append("g").selectAll("circle").data(genes).enter().append("circle")
    .attr("cx", d => sx(d[1])).attr("cy", d => sy(d[2])).attr("r", 1.6).attr("fill", d => opt.foldColor(d[5]));

  g.append("g").selectAll("text").data(genes).enter().append("text")
    .text(d => d[0]).attr("x", d => sx(d[3])).attr("y", d => sy(d[4])).attr("dy", ".35em").attr("text-anchor", "middle")
    .style("font-size", opt.geneFont + "px").style("fill", "#555");
  g.append("g").selectAll("text").data(hubs).enter().append("text")
    .text(d => d[0]).attr("x", d => sx(d[4])).attr("y", d => sy(d[5])).attr("dy", ".35em").attr("text-anchor", "middle")
    .style("font-size", opt.hubFont + "px").style("fill", "#444");

  // red call-outs
  const marker = "arrow" + opt.y0;
  svg.append("defs").append("marker").attr("id", marker).attr("viewBox", "0 0 10 10").attr("refX", 9).attr("refY", 5)
    .attr("markerWidth", 6).attr("markerHeight", 5).attr("markerUnits", "userSpaceOnUse").attr("orient", "auto")
    .append("path").attr("d", "M0,0L10,5L0,10Z").attr("fill", "#ee1c25");
  opt.notes.forEach(([lines, top, bottom, tipX, tipY]) => {
    const mid = (top + bottom) / 2;
    svg.append("line").attr("x1", opt.boxLeft).attr("y1", sy(mid)).attr("x2", sx(tipX)).attr("y2", sy(tipY))
      .attr("stroke", "#ee2a3a").attr("stroke-width", .9).attr("marker-end", `url(#${marker})`);
    svg.append("rect").attr("x", opt.boxLeft).attr("y", sy(top)).attr("width", opt.boxRight - opt.boxLeft).attr("height", sy(bottom) - sy(top))
      .attr("fill", "#fff").attr("stroke", "#444").attr("stroke-width", .9);
    lines.forEach((t, i) => svg.append("text").text(t).attr("x", opt.boxLeft + 6.3)
      .attr("y", sy(mid) + (i - (lines.length - 1) / 2) * 11.2).attr("dy", ".35em")
      .style("font-size", "9.8px").style("fill", "#222"));
  });

  // legends
  const lg = svg.append("g");
  lg.append("text").text("fold change").attr("x", sx(opt.leg.titleX)).attr("y", sy(opt.leg.titleY)).attr("dy", ".35em").attr("text-anchor", "middle")
    .style("font-size", "5.2px").style("fill", "#444");
  gradientDef("grad" + opt.y0, opt.leg.stops);
  lg.append("rect").attr("x", sx(opt.leg.barX)).attr("y", sy(opt.leg.barTop)).attr("width", 8.5).attr("height", sy(opt.leg.barBottom) - sy(opt.leg.barTop))
    .attr("fill", `url(#grad${opt.y0})`);
  lg.selectAll("text.f").data(opt.leg.foldLabels).enter().append("text").attr("class", "f")
    .text(d => d).attr("x", sx(opt.leg.barX) + 11.5).attr("y", (d, i) => sy(opt.leg.foldYs[i])).attr("dy", ".35em")
    .style("font-size", "4.8px").style("fill", "#444");
  lg.append("text").text("size").attr("x", sx(opt.leg.circX) - 2).attr("y", sy(opt.leg.sizeTitleY)).attr("dy", ".35em").attr("text-anchor", "middle")
    .style("font-size", "5.2px").style("fill", "#444");
  lg.selectAll("circle").data(opt.leg.sizes).enter().append("circle")
    .attr("cx", sx(opt.leg.circX)).attr("cy", (d, i) => sy(opt.leg.sizeYs[i])).attr("r", d => hubR(d)).attr("fill", "#000");
  lg.selectAll("text.s").data(opt.leg.sizes).enter().append("text").attr("class", "s")
    .text(d => d).attr("x", sx(opt.leg.circX) + 12.5).attr("y", (d, i) => sy(opt.leg.sizeYs[i])).attr("dy", ".35em")
    .style("font-size", "4.8px").style("fill", "#444");
}
const eFold = d3.scaleLinear().domain([-.5,0,.5,1,1.5,2.3]).range(["#0b7a3a","#3fb54a","#9ed68a","#bdbdbd","#f58a6e","#ee1c25"]);
const gFold = d3.scaleLinear().domain([.9,1.8,3]).range(["#3a53a4","#8e2a91","#ee1c25"]);
drawNetwork({ y0: 1110, hubs: eHubs, links: eLinks, bridges: eHubBridges, foldColor: eFold, geneFont: 5.7, hubFont: 5.8,
  sizeDomain: [21, 85], rRange: [3.2, 6.3], notes: eNotes, boxLeft: 1054.8, boxRight: 1180.5,
  leg: { titleX: 1162, titleY: 463, barX: 1125, barTop: 477, barBottom: 607, stops: ["#ee1c25","#f58a6e","#bdbdbd","#9ed68a","#3fb54a","#0b7a3a"],
    foldLabels: ["2.0","1.5","1.0","0.5","0.0","-0.5"], foldYs: [497,519,540,561,582,603], circX: 1143, sizeTitleY: 628, sizes: [21,42,64,85], sizeYs: [656,685,719,760] } });
drawNetwork({ y0: 1600, hubs: gHubs, links: gLinks, bridges: gHubBridges, foldColor: gFold, geneFont: 5.8, hubFont: 5.75,
  sizeDomain: [5, 37], rRange: [2.9, 6], notes: gNotes, boxLeft: 1055.5, boxRight: 1177.8,
  leg: { titleX: 1168, titleY: 515, barX: 1132, barTop: 530, barBottom: 663, stops: ["#ee1c25","#8e2a91","#3a53a4"],
    foldLabels: ["3","2","1"], foldYs: [542,582,622], circX: 1149, sizeTitleY: 684, sizes: [5,15,25,37], sizeYs: [714,741,777,817] } });
</script>
</body>
</html>
